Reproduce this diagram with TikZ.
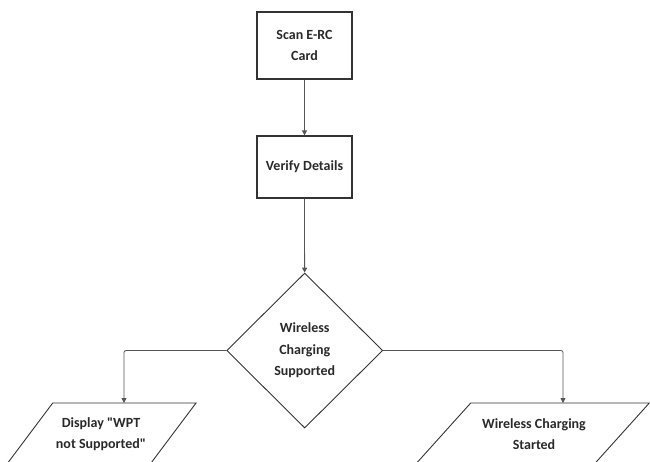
\documentclass[tikz,border=0pt]{standalone}
\usepackage{fontspec}
\setmainfont{Carlito}
\newfontfamily\plainqfont{Carlito}
\usetikzlibrary{shapes.geometric,arrows.meta}
\definecolor{edgec}{HTML}{333333}
\definecolor{linkc}{HTML}{555555}
\definecolor{txtc}{HTML}{2A2A2A}
\newcommand{\sq}{{\plainqfont\bfseries"}}
\tikzset{
  boxnode/.style={draw=edgec, line width=1.2pt, rectangle, minimum width=95pt, inner sep=0pt, align=center, text=txtc, font=\fontsize{14}{21}\selectfont\bfseries},
  decnode/.style={draw=edgec, line width=0.9pt, diamond, minimum width=156pt, minimum height=155pt, inner sep=0pt, align=center, text=txtc, font=\fontsize{14}{21.5}\selectfont\bfseries},
  iotext/.style={align=center, text=txtc, inner sep=0pt, font=\fontsize{14}{21}\selectfont\bfseries},
  ioshape/.style={draw=edgec, line width=0.9pt},
  link/.style={draw=linkc, line width=0.8pt, -{Triangle[length=5pt,width=5pt]}}
}
\begin{document}
\begin{tikzpicture}[x=1pt,y=-1pt]
\clip (0,0) rectangle (650,461);
\fill[white] (0,0) rectangle (650,461);
\node[boxnode, minimum height=67pt] (scan) at (304.5,45.5) {Scan E-RC\\Card};
\node[boxnode, minimum height=62pt] (verify) at (304.5,167) {Verify Details};
\node[decnode] (dec) at (304.7,350.5) {Wireless\\Charging\\Supported};
% left parallelogram
\draw[ioshape] (52.7,403) -- (196,403) -- (142,475) -- (-1.3,475) -- cycle;
\coordinate (ltop) at (124,403);
\node[iotext] (ltext) at (101,434) {Display \sq WPT\\not Supported\sq};
% right parallelogram
\draw[ioshape] (470.7,403) -- (649.3,403) -- (584.5,475) -- (405.9,475) -- cycle;
\coordinate (rtop) at (563,403);
\node[iotext] (rtext) at (534,434) {Wireless Charging\\Started};
% connectors
\draw[link] (scan) -- (verify);
\draw[link] (verify) -- (dec);
\draw[link, rounded corners=2pt] (dec.west) -| (ltop);
\draw[link, rounded corners=2pt] (dec.east) -| (rtop);
\end{tikzpicture}
\end{document}
